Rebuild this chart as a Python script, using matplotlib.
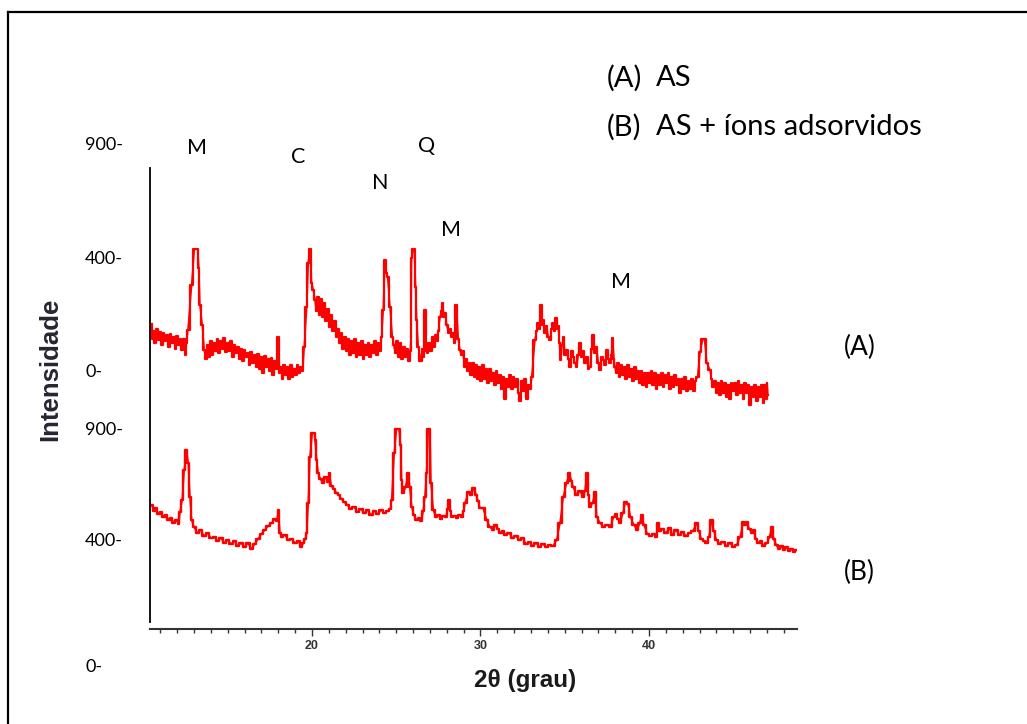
import numpy as np
import matplotlib.pyplot as plt
from matplotlib.lines import Line2D
from matplotlib.ticker import MultipleLocator

# Difratogramas de raios X: (A) AS e (B) AS + íons adsorvidos
# pares (2θ em graus, intensidade em unidades arbitrárias)
pontos_a = [
    (10.5, 105), (10.55, 90), (10.6, 98), (10.7, 86), (10.8, 100), (10.9, 89), (11.0, 97),
    (11.1, 84), (11.2, 96), (11.3, 88), (11.4, 94), (11.5, 82), (11.6, 95), (11.7, 86),
    (11.8, 92), (11.9, 80), (12.0, 93), (12.1, 84), (12.2, 90), (12.3, 79), (12.4, 90),
    (12.5, 74), (12.55, 86), (12.64, 99), (12.86, 144), (13.02, 180), (13.22, 180),
    (13.29, 161), (13.35, 124), (13.49, 104), (13.61, 79),
    (13.7, 70), (13.8, 84), (13.9, 72), (14.0, 88), (14.1, 74), (14.2, 86), (14.3, 78),
    (14.4, 90), (14.5, 76), (14.6, 88), (14.7, 80), (14.8, 91), (14.9, 77), (15.0, 86),
    (15.1, 78), (15.2, 88), (15.3, 72), (15.4, 84), (15.5, 76), (15.6, 82), (15.7, 70),
    (15.8, 80), (15.9, 68), (16.0, 79), (16.1, 72), (16.2, 76), (16.3, 64), (16.4, 77),
    (16.5, 66), (16.6, 74), (16.7, 62), (16.8, 75), (16.9, 60), (17.0, 72), (17.1, 56),
    (17.2, 73), (17.3, 62), (17.4, 70), (17.5, 58), (17.6, 71), (17.7, 54), (17.8, 68),
    (17.9, 60), (18.0, 92), (18.08, 56), (18.15, 62), (18.25, 50), (18.35, 64), (18.45, 54),
    (18.55, 62), (18.65, 50), (18.75, 64), (18.85, 52), (18.95, 60), (19.05, 54),
    (19.15, 64), (19.25, 56), (19.35, 62), (19.45, 58),
    (19.54, 82), (19.69, 122), (19.78, 166), (19.88, 180), (19.98, 146), (20.08, 139),
    (20.18, 129), (20.25, 118), (20.35, 132), (20.45, 114), (20.55, 130), (20.65, 112),
    (20.75, 126), (20.85, 108), (20.95, 120), (21.05, 102), (21.15, 114), (21.25, 98),
    (21.35, 108), (21.45, 92), (21.55, 100), (21.65, 86), (21.75, 96), (21.85, 80),
    (21.95, 92), (22.05, 78), (22.15, 90), (22.25, 74), (22.35, 88), (22.45, 76),
    (22.55, 90), (22.65, 72), (22.75, 86), (22.85, 74), (22.95, 88), (23.05, 70),
    (23.15, 84), (23.25, 74), (23.35, 86), (23.45, 72), (23.55, 84), (23.65, 76),
    (23.75, 88), (23.85, 74), (23.95, 86), (24.05, 78),
    (24.13, 92), (24.23, 119), (24.33, 169), (24.42, 156), (24.49, 152), (24.63, 122),
    (24.77, 92), (24.85, 84), (24.95, 76), (25.05, 88), (25.15, 72), (25.25, 86),
    (25.35, 70), (25.45, 82), (25.55, 72), (25.65, 80), (25.75, 68), (25.83, 78),
    (25.87, 89), (25.91, 171), (26.0, 180), (26.07, 180), (26.15, 142), (26.21, 109),
    (26.31, 82), (26.45, 68), (26.55, 80), (26.63, 72), (26.71, 119), (26.78, 78),
    (26.85, 76), (26.95, 86), (27.05, 78), (27.15, 92), (27.25, 82), (27.35, 94),
    (27.45, 88), (27.5, 98), (27.6, 112), (27.68, 118), (27.76, 126), (27.83, 112),
    (27.9, 116), (28.0, 104), (28.1, 96), (28.2, 100), (28.28, 92), (28.37, 96),
    (28.45, 86), (28.58, 124), (28.68, 90), (28.78, 79), (28.85, 74), (28.95, 78),
    (29.05, 62), (29.15, 70), (29.25, 58), (29.35, 66), (29.45, 54), (29.55, 66),
    (29.65, 52), (29.75, 64), (29.85, 50), (29.95, 62), (30.05, 48), (30.15, 64),
    (30.25, 50), (30.35, 60), (30.45, 46), (30.55, 60), (30.65, 48), (30.75, 56),
    (30.85, 44), (30.95, 58), (31.05, 46), (31.15, 54), (31.25, 40), (31.35, 52),
    (31.45, 30), (31.55, 50), (31.65, 42), (31.75, 54), (31.85, 40), (31.95, 52),
    (32.05, 42), (32.15, 50), (32.25, 36), (32.35, 28), (32.45, 48), (32.55, 38),
    (32.65, 50), (32.75, 30), (32.85, 44), (32.95, 40), (33.04, 52),
    (33.23, 89), (33.33, 98), (33.43, 106), (33.5, 100), (33.59, 124), (33.66, 104),
    (33.73, 109), (33.83, 96), (33.93, 103), (34.02, 92), (34.12, 89), (34.22, 100),
    (34.32, 106), (34.4, 98), (34.48, 111), (34.55, 100), (34.61, 103), (34.68, 86),
    (34.76, 69), (34.84, 84), (34.92, 92), (35.02, 74), (35.12, 79), (35.22, 70),
    (35.31, 62), (35.41, 78), (35.51, 72), (35.61, 66), (35.71, 62), (35.8, 74),
    (35.9, 86), (36.0, 72), (36.1, 78), (36.2, 66), (36.3, 72), (36.4, 60), (36.5, 62),
    (36.6, 80), (36.69, 94), (36.8, 76), (36.89, 82), (36.99, 66), (37.09, 59),
    (37.19, 72), (37.29, 69), (37.39, 64), (37.49, 79), (37.59, 70), (37.69, 66),
    (37.77, 74), (37.84, 91), (37.92, 70), (37.98, 62),
    (38.05, 56), (38.15, 66), (38.25, 52), (38.35, 64), (38.45, 54), (38.55, 62),
    (38.65, 50), (38.75, 64), (38.85, 52), (38.95, 60), (39.05, 48), (39.15, 62),
    (39.25, 50), (39.35, 58), (39.45, 46), (39.55, 58), (39.65, 44), (39.75, 56),
    (39.85, 42), (39.95, 56), (40.05, 46), (40.15, 58), (40.25, 44), (40.35, 56),
    (40.45, 40), (40.55, 54), (40.65, 44), (40.75, 56), (40.85, 42), (40.95, 54),
    (41.05, 46), (41.15, 56), (41.25, 40), (41.35, 52), (41.45, 42), (41.55, 54),
    (41.65, 44), (41.75, 50), (41.85, 36), (41.95, 50), (42.05, 40), (42.15, 52),
    (42.25, 38), (42.35, 48), (42.45, 40), (42.55, 50), (42.65, 38), (42.75, 48),
    (42.88, 52), (43.03, 77), (43.19, 90), (43.29, 90), (43.43, 66), (43.62, 59),
    (43.7, 50), (43.8, 42), (43.9, 48), (44.0, 36), (44.1, 46), (44.2, 34), (44.3, 48),
    (44.4, 36), (44.5, 46), (44.6, 32), (44.7, 44), (44.8, 30), (44.9, 46), (45.0, 38),
    (45.1, 46), (45.2, 34), (45.3, 48), (45.4, 36), (45.5, 44), (45.6, 30), (45.7, 46),
    (45.8, 36), (45.9, 44), (46.0, 24), (46.1, 42), (46.2, 32), (46.3, 44), (46.4, 28),
    (46.5, 42), (46.6, 32), (46.7, 44), (46.8, 26), (46.9, 44), (46.95, 30), (47.0, 46),
    (47.05, 34),
]

pontos_b = [
    (10.5, 124), (10.6, 118), (10.75, 121), (10.9, 115), (11.05, 117), (11.2, 112),
    (11.35, 114), (11.5, 109), (11.65, 111), (11.8, 106), (11.95, 109), (12.1, 105),
    (12.17, 117), (12.3, 129), (12.42, 159), (12.56, 179), (12.66, 166), (12.76, 132),
    (12.86, 109), (13.0, 102), (13.2, 96), (13.4, 99), (13.6, 93), (13.8, 96), (14.0, 91),
    (14.2, 92), (14.4, 88), (14.6, 91), (14.8, 86), (15.0, 89), (15.2, 85), (15.4, 88),
    (15.6, 83), (15.8, 86), (16.0, 82), (16.2, 86), (16.4, 80), (16.6, 85), (16.8, 90),
    (17.0, 95), (17.2, 99), (17.4, 103), (17.6, 106), (17.8, 110), (17.92, 108), (18.0, 119),
    (18.1, 96), (18.2, 92), (18.4, 94), (18.6, 89), (18.8, 90), (19.0, 86), (19.2, 88),
    (19.35, 82), (19.5, 86), (19.6, 90), (19.69, 96), (19.78, 126), (19.88, 172),
    (20.02, 196), (20.14, 196), (20.18, 189), (20.28, 169), (20.37, 156), (20.5, 150),
    (20.65, 146), (20.8, 152), (20.95, 147), (21.03, 156), (21.15, 143), (21.3, 140),
    (21.45, 136), (21.6, 134), (21.75, 130), (21.9, 127), (22.1, 124), (22.3, 120),
    (22.5, 122), (22.7, 117), (22.9, 120), (23.1, 116), (23.3, 119), (23.5, 114), (23.7, 118),
    (23.9, 115), (24.1, 119), (24.3, 116), (24.5, 118), (24.65, 120), (24.73, 129),
    (24.88, 176), (25.02, 200), (25.16, 200), (25.26, 184), (25.32, 149), (25.42, 136),
    (25.55, 142), (25.72, 156), (25.8, 142), (25.92, 122), (26.05, 114), (26.2, 109),
    (26.35, 111), (26.5, 108), (26.6, 118), (26.7, 132), (26.8, 156), (26.9, 200),
    (27.0, 200), (27.06, 146), (27.2, 119), (27.35, 112), (27.5, 114), (27.65, 110),
    (27.8, 113), (27.95, 112), (28.05, 120), (28.13, 129), (28.22, 118), (28.29, 112),
    (28.45, 113), (28.6, 111), (28.75, 114), (28.9, 112), (29.0, 118), (29.08, 126),
    (29.28, 137), (29.45, 134), (29.6, 141), (29.75, 134), (29.85, 128), (29.97, 121),
    (30.15, 121), (30.37, 109), (30.56, 102), (30.75, 99), (30.9, 104), (31.05, 100),
    (31.2, 96), (31.33, 98), (31.5, 94), (31.7, 96), (31.9, 91), (32.1, 93), (32.3, 89),
    (32.5, 91), (32.7, 85), (32.9, 87), (33.1, 83), (33.3, 86), (33.5, 82), (33.7, 85),
    (33.9, 82), (34.1, 84), (34.3, 83), (34.52, 89), (34.72, 106), (34.91, 132),
    (35.11, 146), (35.27, 156), (35.4, 148), (35.5, 142), (35.7, 134), (35.9, 138),
    (36.1, 132), (36.2, 138), (36.3, 156), (36.4, 134), (36.5, 122), (36.65, 126),
    (36.8, 137), (36.9, 112), (37.1, 106), (37.3, 102), (37.5, 104), (37.7, 102),
    (37.9, 112), (38.05, 115), (38.15, 110), (38.28, 106), (38.45, 116), (38.6, 127),
    (38.75, 125), (38.9, 112), (39.1, 104), (39.3, 99), (39.45, 106), (39.57, 114),
    (39.7, 104), (39.9, 95), (40.1, 93), (40.3, 95), (40.45, 92), (40.55, 106), (40.65, 98),
    (40.8, 100), (41.0, 96), (41.2, 101), (41.4, 94), (41.6, 99), (41.8, 94), (42.0, 97),
    (42.2, 93), (42.4, 96), (42.6, 98), (42.83, 106), (42.95, 98), (43.1, 90), (43.25, 88),
    (43.4, 86), (43.55, 92), (43.72, 109), (43.85, 98), (44.0, 89), (44.2, 85), (44.4, 87),
    (44.6, 83), (44.8, 86), (45.0, 82), (45.2, 84), (45.4, 92), (45.6, 107), (45.7, 104),
    (45.8, 107), (45.95, 100), (46.1, 96), (46.2, 99), (46.35, 90), (46.5, 86), (46.65, 88),
    (46.8, 83), (47.0, 86), (47.15, 92), (47.28, 102), (47.4, 90), (47.55, 84), (47.7, 80),
    (47.85, 83), (48.0, 79), (48.15, 82), (48.3, 78), (48.45, 80), (48.6, 77), (48.75, 79),
]

# fases identificadas: M, C, N, Q
fases = ["M", "C", "N", "Q", "M", "M"]
fases_pos = [(197, 148), (298, 157), (380, 183), (427, 146), (451, 230), (621, 282)]

rotulos_y = ["900-", "400-", "0-", "900-", "400-", "0-"]
rotulos_y_pos = [145, 259, 372, 430, 541, 667]

DESLOC_A = 200  # deslocamento vertical da curva A

W, H = 1027, 724


def px(x, y):
    return x / W, 1 - y / H


def main():
    tt_a, int_a = np.array(pontos_a).T
    tt_b, int_b = np.array(pontos_b).T

    fig = plt.figure(figsize=(W / 100, H / 100), dpi=100)
    ax = fig.add_axes([150 / W, 1 - 629 / H, 647 / W, 461 / H])

    # cada curva em degraus + linha simples, para dar o aspecto de contagem ruidosa
    ax.plot(tt_a, int_a + DESLOC_A, color="#ff0000", lw=1.6, drawstyle="steps-mid")
    ax.plot(tt_a, int_a + DESLOC_A, color="#ff0000", lw=1.2)
    ax.plot(tt_b, int_b, color="#ff0000", lw=1.7, drawstyle="steps-mid")
    ax.plot(tt_b, int_b, color="#ff0000", lw=1.2)

    ax.set_xlim(10.39, 48.78)
    ax.set_ylim(0, 461)

    ax.spines["top"].set_visible(False)
    ax.spines["right"].set_visible(False)
    ax.spines["left"].set_bounds(7, 461)
    ax.spines["left"].set_linewidth(1.3)
    ax.spines["bottom"].set_linewidth(1.5)
    ax.spines["bottom"].set_color("#333333")

    ax.set_yticks([])
    ax.set_xticks([20, 30, 40])
    ax.xaxis.set_minor_locator(MultipleLocator(1))
    ax.tick_params(axis="x", which="major", length=5, width=1, pad=3, colors="#333333")
    ax.tick_params(axis="x", which="minor", length=3, width=1, colors="#333333")
    for lbl in ax.get_xticklabels():
        lbl.set_fontfamily("Liberation Sans")
        lbl.set_fontsize(9)
        lbl.set_fontweight("bold")

    fonte = "Lato"
    for letra, (x, y) in zip(fases, fases_pos):
        fig.text(*px(x, y), letra, fontsize=15.5, family=fonte, ha="center", va="center")

    for txt, y in zip(rotulos_y, rotulos_y_pos):
        fig.text(*px(85, y), txt, fontsize=13, family=fonte, ha="left", va="center")

    fig.text(*px(607, 78), "(A)", fontsize=21, family=fonte, ha="left", va="center")
    fig.text(*px(656, 78), "AS", fontsize=21, family=fonte, ha="left", va="center")
    fig.text(*px(607, 127), "(B)", fontsize=21, family=fonte, ha="left", va="center")
    fig.text(*px(656, 127), "AS + íons adsorvidos", fontsize=21, family=fonte,
             ha="left", va="center")
    fig.text(*px(860, 347), "(A)", fontsize=19, family=fonte, ha="center", va="center")
    fig.text(*px(859, 572), "(B)", fontsize=19, family=fonte, ha="center", va="center")

    fig.text(*px(50, 369), "Intensidade", fontsize=18.5, family="Liberation Sans",
             fontweight="bold", rotation=90, ha="center", va="center", color="#262633")
    fig.text(*px(525, 680), "2θ (grau)", fontsize=17.5, family="Liberation Sans",
             fontweight="bold", ha="center", va="center", color="#1a1a1a")

    # moldura (apenas lados esquerdo e superior)
    x0, y0 = px(8, 12)
    fig.add_artist(Line2D([x0, x0], [0, y0], color="black", lw=1.6))
    fig.add_artist(Line2D([x0, 1], [y0, y0], color="black", lw=1.6))

    fig.savefig("out.png", dpi=100)


if __name__ == "__main__":
    main()
